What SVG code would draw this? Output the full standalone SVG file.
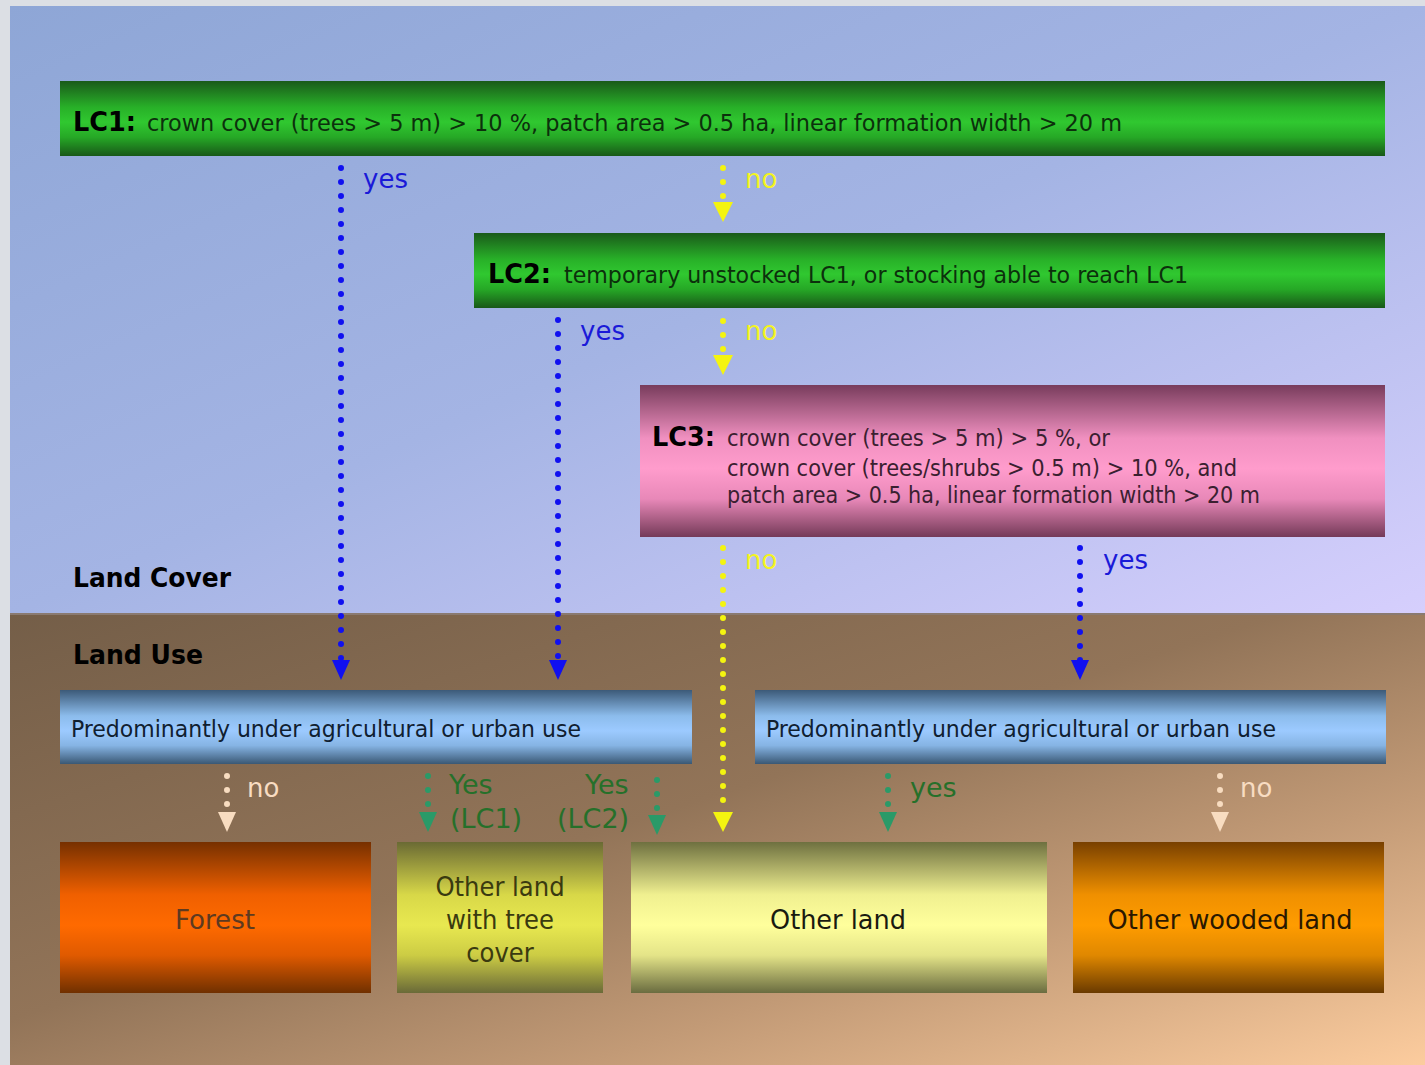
<svg xmlns="http://www.w3.org/2000/svg" width="1425" height="1065" viewBox="0 0 1425 1065">
<defs>
<linearGradient id="sky" x1="0" y1="0" x2="1" y2="1">
<stop offset="0" stop-color="#8ea6d6"/><stop offset="0.5" stop-color="#a4b4e4"/><stop offset="1" stop-color="#d6cffd"/>
</linearGradient>
<linearGradient id="earth" x1="0" y1="0" x2="1" y2="1">
<stop offset="0" stop-color="#745e48"/><stop offset="0.45" stop-color="#927458"/><stop offset="0.7" stop-color="#c29a76"/><stop offset="1" stop-color="#fccc9e"/>
</linearGradient>
<linearGradient id="gGreen" x1="0" y1="0" x2="0" y2="1">
<stop offset="0" stop-color="#1a5a1a"/><stop offset="0.35" stop-color="#28b028"/><stop offset="0.55" stop-color="#30c830"/><stop offset="0.75" stop-color="#26a826"/><stop offset="1" stop-color="#185818"/>
</linearGradient>
<linearGradient id="gPink" x1="0" y1="0" x2="0" y2="1">
<stop offset="0" stop-color="#783c5c"/><stop offset="0.35" stop-color="#f090c0"/><stop offset="0.55" stop-color="#ff9ccc"/><stop offset="0.75" stop-color="#e888b8"/><stop offset="1" stop-color="#743a58"/>
</linearGradient>
<linearGradient id="gBlue" x1="0" y1="0" x2="0" y2="1">
<stop offset="0" stop-color="#3c5a78"/><stop offset="0.35" stop-color="#8cbcec"/><stop offset="0.55" stop-color="#9ccaff"/><stop offset="0.75" stop-color="#86b4e4"/><stop offset="1" stop-color="#3a5874"/>
</linearGradient>
<linearGradient id="gForest" x1="0" y1="0" x2="0" y2="1">
<stop offset="0" stop-color="#763000"/><stop offset="0.35" stop-color="#f06000"/><stop offset="0.55" stop-color="#ff6a00"/><stop offset="0.75" stop-color="#e05a00"/><stop offset="1" stop-color="#703000"/>
</linearGradient>
<linearGradient id="gOLT" x1="0" y1="0" x2="0" y2="1">
<stop offset="0" stop-color="#6a6a34"/><stop offset="0.35" stop-color="#d8d848"/><stop offset="0.55" stop-color="#e8e850"/><stop offset="0.75" stop-color="#cccc44"/><stop offset="1" stop-color="#6a6a38"/>
</linearGradient>
<linearGradient id="gOL" x1="0" y1="0" x2="0" y2="1">
<stop offset="0" stop-color="#6e7040"/><stop offset="0.35" stop-color="#f0f090"/><stop offset="0.55" stop-color="#ffff9c"/><stop offset="0.75" stop-color="#e4e488"/><stop offset="1" stop-color="#6a6c40"/>
</linearGradient>
<linearGradient id="gOWL" x1="0" y1="0" x2="0" y2="1">
<stop offset="0" stop-color="#784000"/><stop offset="0.35" stop-color="#f09000"/><stop offset="0.55" stop-color="#ff9c00"/><stop offset="0.75" stop-color="#e08800"/><stop offset="1" stop-color="#6a3a00"/>
</linearGradient>
</defs>
<style>
.lab{font-family:"DejaVu Sans",Verdana,sans-serif;font-weight:bold;font-size:26px;fill:#000;}
.body{font-family:"DejaVu Sans Condensed","DejaVu Sans",sans-serif;font-size:23px;}
.c{stroke-width:6;stroke-linecap:round;stroke-dasharray:0 14;fill:none;}
.yes{font-family:"DejaVu Sans",Verdana,sans-serif;font-size:26px;fill:#1a1ad8;}
.no{font-family:"DejaVu Sans",Verdana,sans-serif;font-size:26px;fill:#f4f420;}
.no2{font-family:"DejaVu Sans",Verdana,sans-serif;font-size:26px;fill:#f8dcc2;}
.gy{font-family:"DejaVu Sans",Verdana,sans-serif;font-size:27px;fill:#26702a;}
.box{font-family:"DejaVu Sans Condensed","DejaVu Sans",sans-serif;font-size:27px;text-anchor:middle;}
</style>
<rect x="0" y="0" width="1425" height="1065" fill="#dcdfe4"/>
<rect x="10" y="6" width="1415" height="608" fill="url(#sky)"/>
<rect x="10" y="614" width="1415" height="451" fill="url(#earth)"/>
<line x1="10" y1="614" x2="1425" y2="614" stroke="#8a7a70" stroke-width="2"/>
<text class="lab" x="73" y="587" textLength="158" lengthAdjust="spacingAndGlyphs">Land Cover</text>
<text class="lab" x="73" y="664" textLength="130" lengthAdjust="spacingAndGlyphs">Land Use</text>

<g id="lc1">
<rect x="60" y="81" width="1325" height="75" fill="url(#gGreen)"/>
<text class="lab" x="73" y="131" textLength="63" lengthAdjust="spacingAndGlyphs">LC1:</text>
<text class="body" x="147" y="131" fill="#0c300c" textLength="975" lengthAdjust="spacingAndGlyphs">crown cover (trees &gt; 5 m) &gt; 10 %, patch area &gt; 0.5 ha, linear formation width &gt; 20 m</text>
</g>
<g id="lc2">
<rect x="474" y="233" width="911" height="75" fill="url(#gGreen)"/>
<text class="lab" x="488" y="283" textLength="63" lengthAdjust="spacingAndGlyphs">LC2:</text>
<text class="body" x="564" y="283" fill="#0c300c" textLength="624" lengthAdjust="spacingAndGlyphs">temporary unstocked LC1, or stocking able to reach LC1</text>
</g>
<g id="lc3">
<rect x="640" y="385" width="745" height="152" fill="url(#gPink)"/>
<text class="lab" x="652" y="446" textLength="63" lengthAdjust="spacingAndGlyphs">LC3:</text>
<text class="body" x="727" y="446" fill="#3a2030" textLength="383" lengthAdjust="spacingAndGlyphs">crown cover (trees &gt; 5 m) &gt; 5 %, or</text>
<text class="body" x="727" y="476" fill="#3a2030" textLength="510" lengthAdjust="spacingAndGlyphs">crown cover (trees/shrubs &gt; 0.5 m) &gt; 10 %, and</text>
<text class="body" x="727" y="503" fill="#3a2030" textLength="533" lengthAdjust="spacingAndGlyphs">patch area &gt; 0.5 ha, linear formation width &gt; 20 m</text>
</g>
<g id="use1">
<rect x="60" y="690" width="632" height="74" fill="url(#gBlue)"/>
<text class="body" x="71" y="737" fill="#102030" textLength="510" lengthAdjust="spacingAndGlyphs">Predominantly under agricultural or urban use</text>
</g>
<g id="use2">
<rect x="755" y="690" width="631" height="74" fill="url(#gBlue)"/>
<text class="body" x="766" y="737" fill="#102030" textLength="510" lengthAdjust="spacingAndGlyphs">Predominantly under agricultural or urban use</text>
</g>
<g id="forest">
<rect x="60" y="842" width="311" height="151" fill="url(#gForest)"/>
<text class="box" x="215" y="929" fill="#5e3a20" textLength="80" lengthAdjust="spacingAndGlyphs">Forest</text>
</g>
<g id="oltc">
<rect x="397" y="842" width="206" height="151" fill="url(#gOLT)"/>
<text class="box" x="500" y="896" fill="#3a3a10">Other land</text>
<text class="box" x="500" y="929" fill="#3a3a10">with tree</text>
<text class="box" x="500" y="962" fill="#3a3a10">cover</text>
</g>
<g id="other">
<rect x="631" y="842" width="416" height="151" fill="url(#gOL)"/>
<text class="box" x="838" y="929" fill="#1a1a10" textLength="136" lengthAdjust="spacingAndGlyphs">Other land</text>
</g>
<g id="owl">
<rect x="1073" y="842" width="311" height="151" fill="url(#gOWL)"/>
<text class="box" x="1230" y="929" fill="#2a1800" textLength="245" lengthAdjust="spacingAndGlyphs">Other wooded land</text>
</g>

<g id="connectors">
<path class="c" d="M341,168 V662" stroke="#1010f0"/>
<path d="M332,660 L350,660 L341,680 Z" fill="#1010f0"/>
<path class="c" d="M723,168 V197" stroke="#f4f410"/>
<path d="M713,202 L733,202 L723,222 Z" fill="#f4f410"/>
<path class="c" d="M558,320 V662" stroke="#1010f0"/>
<path d="M549,660 L567,660 L558,680 Z" fill="#1010f0"/>
<path class="c" d="M723,321 V350" stroke="#f4f410"/>
<path d="M713,355 L733,355 L723,375 Z" fill="#f4f410"/>
<path class="c" d="M723,548 V810" stroke="#f4f410"/>
<path d="M713,812 L733,812 L723,832 Z" fill="#f4f410"/>
<path class="c" d="M1080,548 V662" stroke="#1010f0"/>
<path d="M1071,660 L1089,660 L1080,680 Z" fill="#1010f0"/>
<path class="c" d="M227,776 V805" stroke="#f8dcc0"/>
<path d="M218,812 L236,812 L227,832 Z" fill="#f8dcc0"/>
<path class="c" d="M428,776 V805" stroke="#2a9a68"/>
<path d="M419,812 L437,812 L428,832 Z" fill="#2a9a68"/>
<path class="c" d="M657,780 V809" stroke="#2a9a68"/>
<path d="M648,815 L666,815 L657,835 Z" fill="#2a9a68"/>
<path class="c" d="M888,776 V805" stroke="#2a9a68"/>
<path d="M879,812 L897,812 L888,832 Z" fill="#2a9a68"/>
<path class="c" d="M1220,776 V805" stroke="#f8dcc0"/>
<path d="M1211,812 L1229,812 L1220,832 Z" fill="#f8dcc0"/>
<text class="yes" x="363" y="188">yes</text>
<text class="no" x="745" y="188">no</text>
<text class="yes" x="580" y="340">yes</text>
<text class="no" x="745" y="340">no</text>
<text class="no" x="745" y="569">no</text>
<text class="yes" x="1103" y="569">yes</text>
<text class="no2" x="247" y="797">no</text>
<text class="gy" x="449" y="794">Yes</text>
<text class="gy" x="450" y="828">(LC1)</text>
<text class="gy" x="585" y="794">Yes</text>
<text class="gy" x="557" y="828">(LC2)</text>
<text class="gy" x="910" y="797">yes</text>
<text class="no2" x="1240" y="797">no</text>
</g>
</svg>
